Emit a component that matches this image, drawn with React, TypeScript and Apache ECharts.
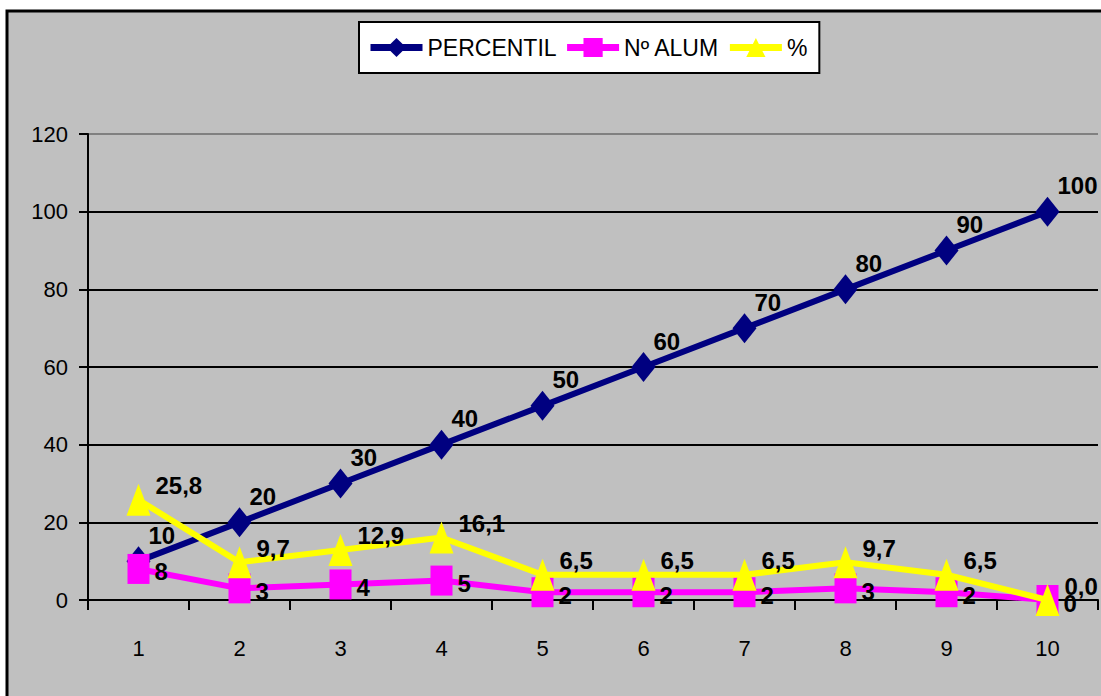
import React, { useEffect, useRef } from "react";
import * as echarts from "echarts";

const categories = ["1", "2", "3", "4", "5", "6", "7", "8", "9", "10"];
const percentil = [10, 20, 30, 40, 50, 60, 70, 80, 90, 100];
const numAlum = [8, 3, 4, 5, 2, 2, 2, 3, 2, 0];
const pct = [25.8, 9.7, 12.9, 16.1, 6.5, 6.5, 6.5, 9.7, 6.5, 0.0];
const yTicks = { min: 0, max: 120, interval: 20 };

const FONT = "'Liberation Sans', Arial, sans-serif";

export default function App() {
  const ref = useRef<HTMLDivElement>(null);
  useEffect(() => {
    if (!ref.current) return;
    const chart = echarts.init(ref.current, undefined, { renderer: "svg" });
    const labelBase = {
      show: true,
      position: "right",
      distance: 5,
      color: "#000",
      fontFamily: FONT,
      fontWeight: "bold",
      fontSize: 24,
    };
    chart.setOption({
      animation: false,
      backgroundColor: "#ffffff",
      textStyle: { fontFamily: FONT },
      graphic: [
        {
          type: "rect",
          z: -10,
          silent: true,
          shape: { x: 7, y: 11, width: 1200, height: 800 },
          style: { fill: "#c0c0c0", stroke: "#000", lineWidth: 3 },
        },
      ],
      legend: {
        left: 359,
        top: 22,
        backgroundColor: "#ffffff",
        borderColor: "#000",
        borderWidth: 2,
        borderRadius: 0,
        padding: [14, 12, 14, 8],
        itemWidth: 52,
        itemHeight: 24,
        itemGap: 7,
        lineStyle: { width: 7 },
        textStyle: { fontFamily: FONT, fontSize: 23, color: "#000" },
        data: ["PERCENTIL", "Nº ALUM", "%"],
      },
      grid: { left: 88, right: 3, top: 134, bottom: 96, containLabel: false },
      xAxis: {
        type: "category",
        data: categories,
        boundaryGap: true,
        axisLine: { show: true, lineStyle: { color: "#000", width: 2 } },
        axisTick: { show: true, length: 10, lineStyle: { color: "#000", width: 2 } },
        axisLabel: { color: "#000", fontFamily: FONT, fontSize: 22, margin: 37 },
        splitLine: { show: false },
      },
      yAxis: {
        type: "value",
        min: yTicks.min,
        max: yTicks.max,
        interval: yTicks.interval,
        axisLine: { show: true, lineStyle: { color: "#000", width: 2 } },
        axisTick: { show: true, length: 9, lineStyle: { color: "#000", width: 2 } },
        axisLabel: { color: "#000", fontFamily: FONT, fontSize: 22, margin: 20 },
        splitLine: {
          show: true,
          lineStyle: {
            color: ["#000", "#000", "#000", "#000", "#000", "#000", "#808080"],
            width: 2,
          },
        },
      },
      series: [
        {
          name: "PERCENTIL",
          type: "line",
          data: percentil,
          symbol: "diamond",
          symbolSize: [24, 30],
          lineStyle: { color: "#000080", width: 6 },
          itemStyle: { color: "#000080" },
          label: { ...labelBase, distance: 0, offset: [-2, -26] },
          emphasis: { disabled: true },
          z: 3,
        },
        {
          name: "Nº ALUM",
          type: "line",
          data: numAlum,
          symbol: "rect",
          symbolSize: [22, 30],
          lineStyle: { color: "#ff00ff", width: 6 },
          itemStyle: { color: "#ff00ff" },
          label: { ...labelBase, offset: [0, 3] },
          emphasis: { disabled: true },
          z: 4,
        },
        {
          name: "%",
          type: "line",
          data: pct,
          symbol: "triangle",
          symbolSize: [24, 32],
          lineStyle: { color: "#ffff00", width: 6 },
          itemStyle: { color: "#ffff00" },
          label: {
            ...labelBase,
            offset: [0, -14],
            formatter: (p: any) => Number(p.value).toFixed(1).replace(".", ","),
          },
          emphasis: { disabled: true },
          z: 5,
        },
      ],
    });
    return () => chart.dispose();
  }, []);
  return (
    <div
      ref={ref}
      style={{ position: "absolute", left: 0, top: 0, width: 1101, height: 696 }}
    />
  );
}
